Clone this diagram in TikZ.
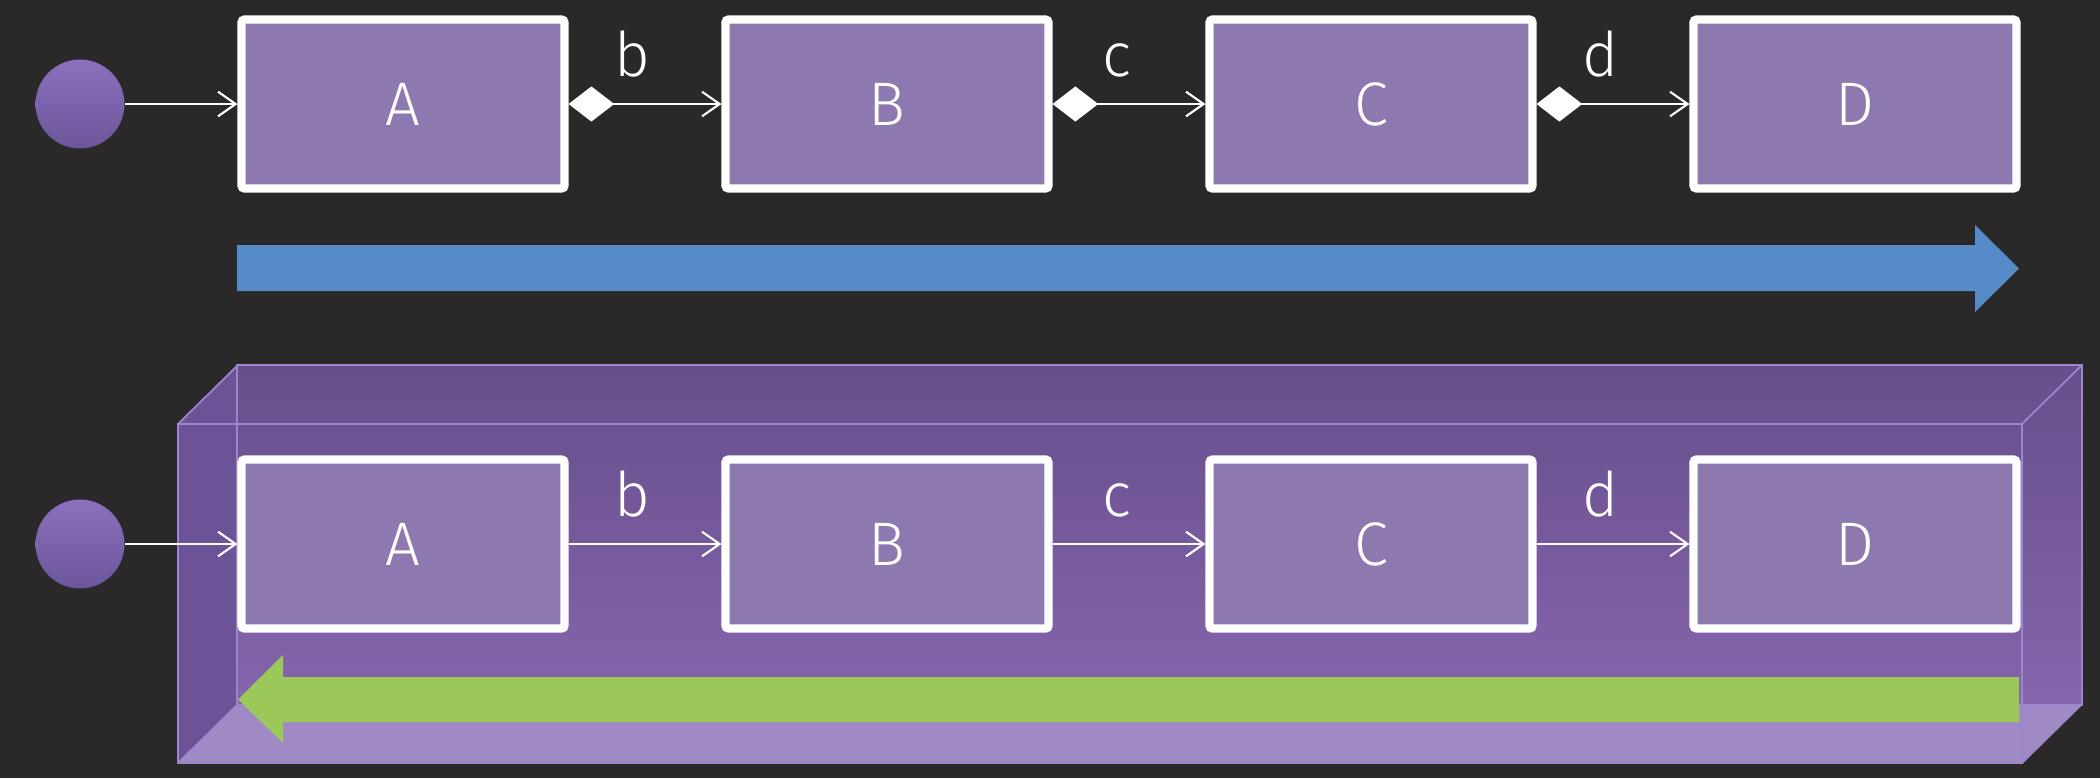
\documentclass[tikz,border=0pt]{standalone}
\usepackage{fontspec}
\setmainfont{Fira Sans}[UprightFont=* Light]
\usetikzlibrary{arrows.meta}
\definecolor{fondo}{HTML}{2A2829}
\definecolor{morado}{HTML}{8E78B0}
\definecolor{circA}{HTML}{8C70BE}
\definecolor{circB}{HTML}{6C559A}
\definecolor{azul}{HTML}{568BCA}
\definecolor{verde}{HTML}{9CC759}
\definecolor{cajaSup}{HTML}{674E8C}
\definecolor{cajaInf}{HTML}{8A69B2}
\definecolor{cajaIzq}{HTML}{6C5297}
\definecolor{cajaBase}{HTML}{A08AC5}
\definecolor{arista}{HTML}{9D86CC}
\begin{document}
\begin{tikzpicture}[
    box/.style={draw=white, line width=2.3pt, rounded corners=0.8pt, fill=morado,
        minimum width=3.23cm, minimum height=1.69cm, text=white,
        font=\fontsize{17.5}{20}\selectfont},
    dot/.style={circle, minimum size=0.89cm, inner sep=0pt, top color=circA, bottom color=circB},
    conn/.style={white, line width=0.6pt, -{Straight Barb[length=5pt,width=7pt]}},
    lbl/.style={above=0.26cm, pos=0.42, inner sep=0pt, text=white,
        font=\fontsize{17.5}{20}\selectfont}
]
    \useasboundingbox (0,0) rectangle (21,7.78);
    \fill[fondo] (0,0) rectangle (21,7.78);
    % Flecha azul (fila superior)
    \fill[azul] (2.37,5.33) -- (19.75,5.33) -- (19.75,5.53) -- (20.19,5.095)
        -- (19.75,4.66) -- (19.75,4.87) -- (2.37,4.87) -- cycle;
    % Caja 3D transparente (fila inferior)
    \shade[top color=cajaSup, bottom color=cajaInf] (1.78,0.15) -- (1.78,3.54) -- (2.37,4.13)
        -- (20.82,4.13) -- (20.82,0.73) -- (20.22,0.15) -- cycle;
    \fill[cajaIzq] (1.78,0.15) -- (1.78,3.54) -- (2.37,4.13) -- (2.37,0.73) -- cycle;
    \fill[cajaBase] (1.78,0.15) -- (2.37,0.73) -- (20.82,0.73) -- (20.22,0.15) -- cycle;
    % Aristas de la caja
    \draw[arista, line width=0.5pt] (1.78,0.15) rectangle (20.22,3.54);
    \draw[arista, line width=0.5pt] (2.37,0.73) rectangle (20.82,4.13);
    \foreach \px/\py in {1.78/0.15, 1.78/3.54, 20.22/0.15, 20.22/3.54}
        \draw[arista, line width=0.5pt] (\px,\py) -- ++(0.59,0.58);
    % Flecha verde (hacia la izquierda)
    \fill[verde] (20.19,1.01) -- (2.83,1.01) -- (2.83,1.23) -- (2.38,0.785)
        -- (2.83,0.35) -- (2.83,0.56) -- (20.19,0.56) -- cycle;
    % Estados iniciales
    \node[dot] (s1) at (0.80,6.74) {};
    \node[dot] (s2) at (0.80,2.34) {};
    % Cajas A-D en ambas filas
    \foreach \n/\x in {A/4.03, B/8.87, C/13.71, D/18.55}{
        \node[box] (\n1) at (\x,6.74) {\n};
        \node[box] (\n2) at (\x,2.34) {\n};
    }
    \draw[conn] (s1) -- (A1.west);
    \draw[conn] (s2) -- (A2.west);
    % Conectores con rombo (arriba) y simples (abajo)
    \foreach \p/\q/\l in {A/B/b, B/C/c, C/D/d}{
        \draw[conn, {Diamond[length=13pt,width=10pt]}-{Straight Barb[length=5pt,width=7pt]}]
            (\p1.east) -- node[lbl] (\l1) {\l} (\q1.west);
        \draw[conn] (\p2.east) -- node[lbl] (\l2) {\l} (\q2.west);
    }
\end{tikzpicture}
\end{document}
